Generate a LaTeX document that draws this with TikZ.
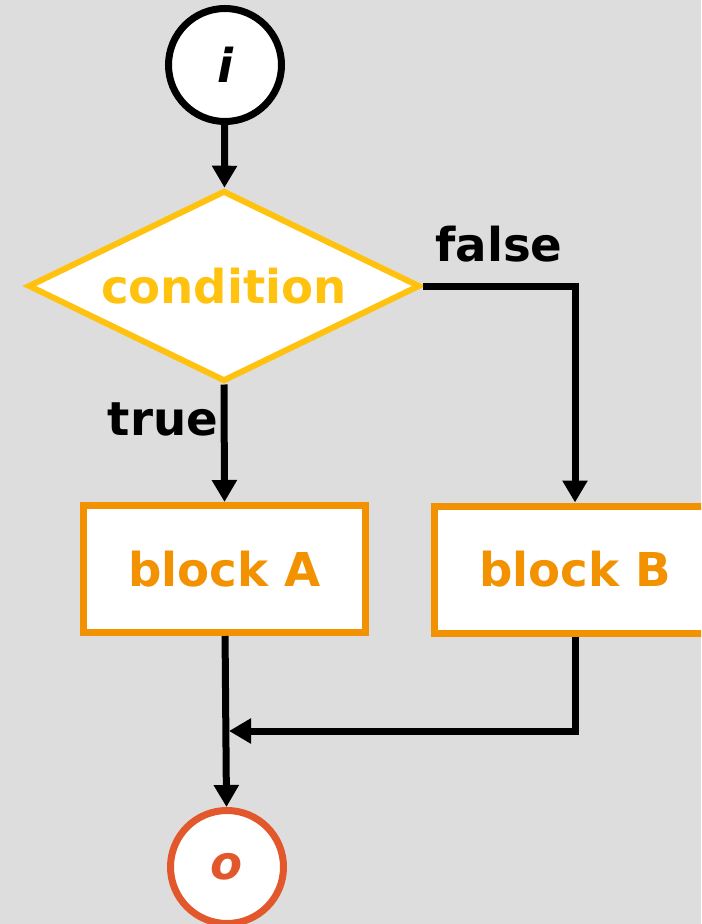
\documentclass[tikz,border=0pt]{standalone}
\usepackage{fontspec}
\setmainfont{DejaVu Sans}
\usepackage{xcolor}
\usetikzlibrary{
    arrows.meta,
    shapes.geometric,
    positioning
}
\definecolor{condyellow}{HTML}{FFC20E}
\definecolor{blockorange}{HTML}{F39200}
\definecolor{outred}{HTML}{E2572B}
\definecolor{bggray}{HTML}{DDDDDD}
\tikzset{
    big/.style={font=\fontsize{35}{42}\selectfont\bfseries},
    term/.style={circle, draw, fill=white, line width=5.25pt, minimum size=84.75pt, inner sep=0pt, big},
    test/.style={diamond, draw=condyellow, fill=white, text=condyellow, line width=4.5pt,
        minimum width=294pt, minimum height=143.25pt, aspect=2, inner sep=0pt, big},
    block/.style={rectangle, draw=blockorange, fill=white, text=blockorange, line width=5.25pt,
        minimum width=211.5pt, minimum height=95.25pt, big},
    flow/.style={line width=5.25pt, -{Triangle[length=16.5pt, width=18pt]}}
}

\begin{document}
\begin{tikzpicture}[x=0.75pt, y=-0.75pt]
                        \fill[bggray] (0, 0) rectangle (701, 924);
                        \useasboundingbox (0, 0) rectangle (701, 924);
                        \clip (0, 0) rectangle (701, 924);

                        \node[term] (in) at (225, 65) {\itshape i};
                        \node[test] (cond) at (224, 286) {condition};
                        \node[block] (blockA) at (224.5, 569) {block A};
                        \node[block] (blockB) at (575, 569.5) {block B};
                        \node[term, draw=outred, text=outred] (out) at (227, 867) {\itshape o};
                        \coordinate (join) at (229, 731);

                        \draw[flow] (in) -- (cond);
                        \draw[flow] (cond.east) -| node[pos=0.25, above, inner sep=15pt, big] {false} (blockB.north);
                        \draw[flow] (cond.south) -- node[pos=0.3, left, inner sep=2pt, big] {true} (blockA.north);
                        \draw[flow] (blockA) -- (out);
                        \draw[flow] (blockB.south) |- (join);
                    \end{tikzpicture}
\end{document}
